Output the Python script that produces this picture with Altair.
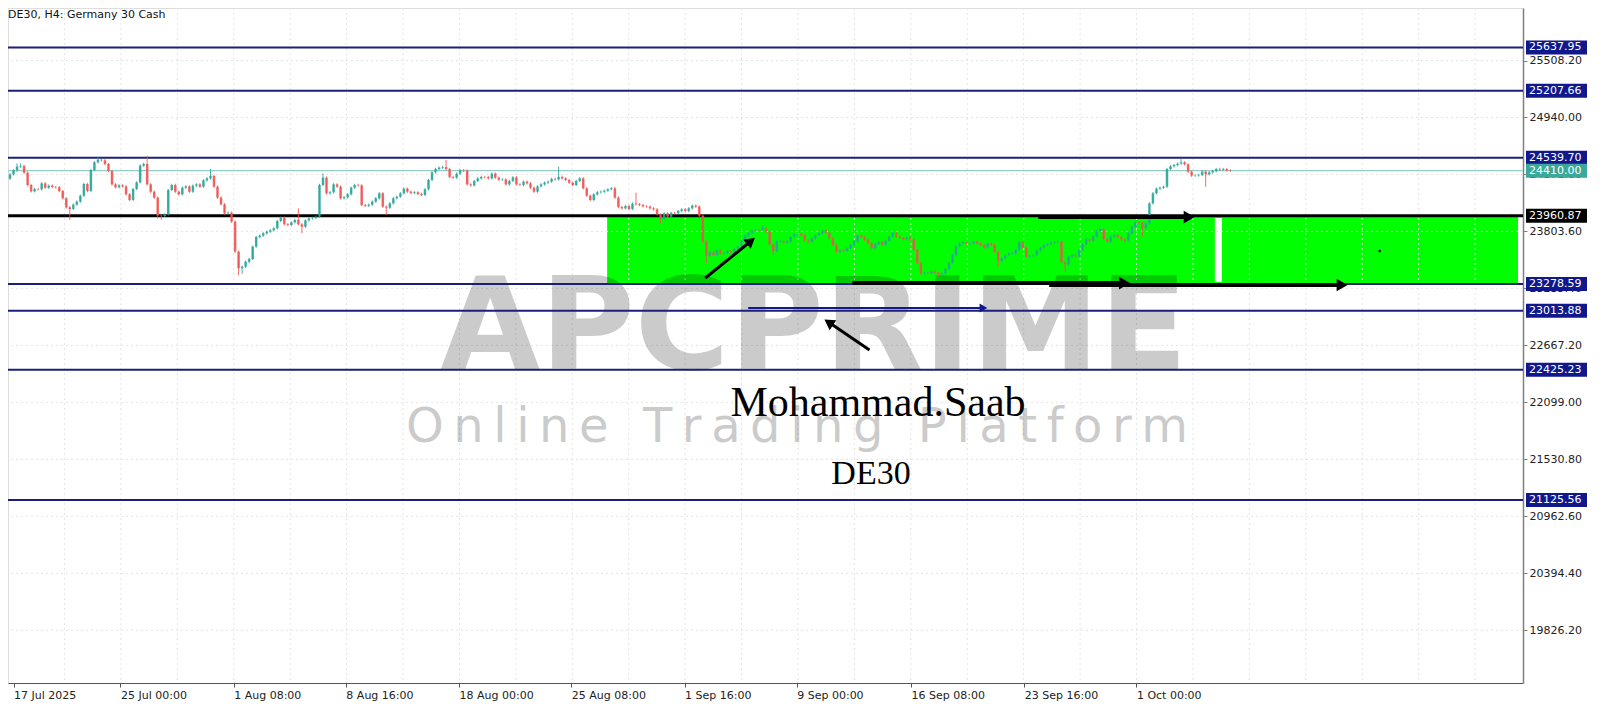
import altair as alt
import pandas as pd
import numpy as np

# ---------------- data ----------------
closes = [
    24373, 24413, 24450, 24456, 24390, 24267, 24204, 24227, 24224, 24283,
    24240, 24260, 24247, 24244, 24207, 24134, 24044, 24028, 24071, 24101,
    24160, 24277, 24207, 24416, 24493, 24519, 24513, 24476, 24406, 24273,
    24244, 24263, 24253, 24174, 24117, 24227, 24293, 24460, 24476, 24273,
    24200, 24141, 23961, 23958, 23974, 24217, 24267, 24200, 24174, 24240,
    24253, 24200, 24260, 24273, 24250, 24313, 24333, 24357, 24250, 24141,
    24074, 23984, 23990, 23901, 23602, 23436, 23452, 23502, 23529, 23652,
    23748, 23762, 23785, 23801, 23815, 23835, 23908, 23941, 23875, 23868,
    23894, 23918, 23875, 23851, 23914, 23934, 23938, 23951, 24267, 24340,
    24184, 24194, 24273, 24250, 24134, 24144, 24174, 24240, 24267, 24263,
    24067, 24060, 24070, 24101, 24134, 24184, 24051, 24041, 24084, 24134,
    24150, 24184, 24230, 24200, 24187, 24194, 24177, 24167, 24224, 24317,
    24393, 24426, 24440, 24446, 24426, 24347, 24340, 24380, 24413, 24410,
    24273, 24263, 24307, 24333, 24347, 24345, 24333, 24380, 24340, 24320,
    24322, 24273, 24307, 24343, 24273, 24267, 24300, 24283, 24240, 24200,
    24253, 24273, 24290, 24300, 24327, 24323, 24347, 24333, 24317, 24290,
    24267, 24307, 24333, 24234, 24160, 24117, 24174, 24194, 24200, 24210,
    24224, 24234, 24141, 24047, 24034, 24057, 24028, 24081, 24074, 24067,
    24054, 24051, 24034, 24024, 23974, 23928, 23984, 23951, 23988, 23986,
    24008, 24024, 24008, 24034, 24061, 24051, 23961, 23702, 23562, 23595,
    23569, 23615, 23585, 23588, 23609, 23592, 23629, 23652, 23712, 23762,
    23788, 23811, 23818, 23815, 23835, 23801, 23675, 23609, 23702, 23708,
    23692, 23705, 23748, 23775, 23778, 23765, 23712, 23702, 23735, 23768,
    23785, 23815, 23791, 23735, 23668, 23602, 23615, 23609, 23635, 23668,
    23705, 23762, 23748, 23722, 23685, 23635, 23678, 23698, 23672, 23712,
    23752, 23791, 23752, 23738, 23725, 23741, 23722, 23619, 23486, 23386,
    23390, 23389, 23403, 23392, 23373, 23386, 23429, 23489, 23569, 23658,
    23685, 23695, 23682, 23684, 23702, 23685, 23668, 23642, 23682, 23668,
    23602, 23512, 23535, 23569, 23582, 23585, 23619, 23695, 23642, 23552,
    23559, 23569, 23615, 23642, 23668, 23678, 23692, 23698, 23702, 23496,
    23476, 23552, 23569, 23555, 23619, 23675, 23725, 23712, 23752, 23808,
    23828, 23728, 23702, 23752, 23765, 23748, 23722, 23712, 23785, 23851,
    23894, 23888, 23835, 23885, 24084, 24184, 24230, 24240, 24250, 24426,
    24453, 24466, 24480, 24493, 24473, 24400, 24360, 24362, 24367, 24400,
    24373, 24393, 24406, 24426, 24420, 24426, 24413, 24410,
]
first_open = 24330
notable_highs = {2: 24483, 3: 24483, 25: 24550, 39: 24559, 57: 24426, 82: 24034,
                 89: 24383, 124: 24516, 156: 24450, 178: 24190, 214: 23868, 333: 24530}
notable_lows = {17: 23918, 42: 23935, 43: 23918, 65: 23369, 66: 23380, 68: 23486,
                83: 23785, 107: 23968, 185: 23885, 198: 23486, 217: 23569, 264: 23353,
                281: 23452, 300: 23403, 322: 23752, 340: 24250}
typical_wick = 12

date_labels = ["17 Jul 2025", "25 Jul 00:00", "1 Aug 08:00", "8 Aug 16:00", "18 Aug 00:00",
               "25 Aug 08:00", "1 Sep 16:00", "9 Sep 00:00", "16 Sep 08:00", "23 Sep 16:00",
               "1 Oct 00:00"]
date_label_bars = [1, 31.4, 63.6, 95.5, 127.7, 159.6, 191.8, 223.7, 256.2, 288.4, 320.3]

price_ticks = [26076.40, 25508.20, 24940.00, 24371.80, 23803.60, 23235.40,
               22667.20, 22099.00, 21530.80, 20962.60, 20394.40, 19826.20]

navy_levels = [25637.95, 25207.66, 24539.70, 23278.59, 23013.88, 22425.23, 21125.56]
black_levels = [23960.87]
bid_level = [24410.00]

zone_low, zone_high = 23278.59, 23960.87
zone_start_bar = 169.8
gap_bar_from, gap_bar_to = 342.6, 344.6
gap_price_low, gap_price_high = 23299, 23937

arrow_x1 = [197.7, 244.4, 209.9, 292.4, 239.5, 295.5]
arrow_y1 = [23339, 22621, 23040, 23947, 23289, 23270]
arrow_x2 = [210.7, 232.8, 276.8, 335.3, 316.9, 378.8]
arrow_y2 = [23708, 22897, 23040, 23947, 23289, 23270]
arrow_color = ["#000000", "#000000", "#14198a", "#000000", "#000000", "#000000"]
arrow_width = [3, 3, 2, 4, 4, 4]
arrow_angle = [320.6, 214, 0, 0, 0, 0]
arrow_head = [140, 140, 80, 160, 160, 160]

dot_bar, dot_price = [389.5], [23608]

title_text = ["DE30, H4:  Germany 30 Cash"]
watermark_text = ["APCPRIME"]
tagline_text = ["\u200a\u200a".join("Online Trading Platform")]
author_text = ["Mohammad.Saab"]
symbol_text = ["DE30"]

# ---------------- layout ----------------
W, H = 1515, 675
XMIN, XMAX = 0.847, 428.81
YMIN, YMAX = 19300.8, 26031.8
BULL, BEAR = "#26a69a", "#ef5350"
NAVY_LINE, NAVY_TAG = "#1c1f7a", "#10188c"
TEAL_LINE, TEAL_TAG = "#93cdc5", "#3aa89a"
FONT = "DejaVu Sans"

n = len(closes)
opens = [first_open] + closes[:-1]
highs = [notable_highs.get(i, max(opens[i], closes[i]) + typical_wick) for i in range(n)]
lows = [notable_lows.get(i, min(opens[i], closes[i]) - typical_wick) for i in range(n)]
candles = pd.DataFrame({"i": range(n), "open": opens, "close": closes,
                        "high": highs, "low": lows})
candles["dir"] = np.where(candles["close"] >= candles["open"], "up", "down")

xs = alt.Scale(domain=[XMIN, XMAX], nice=False, zero=False)
ys = alt.Scale(domain=[YMIN, YMAX], nice=False, zero=False)

label_expr = " : ".join(f"datum.value == {v} ? '{l}'" for v, l in zip(date_label_bars, date_labels)) + " : ''"
x_axis = alt.Axis(values=date_label_bars, labelExpr=label_expr, labelAlign="left",
                  labelPadding=2, tickSize=4, grid=False, title=None, labelFont=FONT,
                  labelFontSize=11, labelColor="#222222", domainColor="#555555",
                  tickColor="#555555", labelFlush=False, labelOverlap=False, labelBound=False)
y_ticks_in = [v for v in price_ticks if YMIN <= v <= YMAX]
y_axis = alt.Axis(orient="right", values=y_ticks_in, format=".2f", tickSize=4,
                  labelPadding=2, grid=False, title=None, labelFont=FONT, labelFontSize=11,
                  labelColor="#222222", domainColor="#808080", domainWidth=1.5,
                  tickColor="#808080", labelOverlap=False, labelBound=False, labelFlush=False)


def X(f):
    return alt.X(f, type="quantitative", scale=xs, axis=x_axis)


def Y(f):
    return alt.Y(f, type="quantitative", scale=ys, axis=y_axis)


zone = alt.Chart(pd.DataFrame({"x": [zone_start_bar], "x2": [XMAX], "y": [zone_low], "y2": [zone_high]})).mark_rect(
    color="#00ff00", clip=True).encode(x=X("x"), x2="x2", y=Y("y"), y2="y2")
gap = alt.Chart(pd.DataFrame({"x": [gap_bar_from], "x2": [gap_bar_to], "y": [gap_price_low], "y2": [gap_price_high]})).mark_rect(
    color="#ffffff", clip=True).encode(x=X("x"), x2="x2", y=Y("y"), y2="y2")

grid_x = -0.565 + 16.045 * np.arange(1, 27)
grid_v = alt.Chart(pd.DataFrame({"g": grid_x})).mark_rule(
    color="#e4e4e4", strokeDash=[2, 3], strokeWidth=1, clip=True).encode(x=X("g"))
grid_h = alt.Chart(pd.DataFrame({"g": y_ticks_in})).mark_rule(
    color="#e4e4e4", strokeDash=[2, 3], strokeWidth=1, clip=True).encode(y=Y("g"))

wm = alt.Chart(pd.DataFrame({"t": watermark_text})).mark_text(
    font=FONT, fontSize=129, fontWeight="bold", align="center", baseline="alphabetic",
    color="#000000", opacity=0.2).encode(x=alt.value(806), y=alt.value(361), text="t:N")
tag_line = alt.Chart(pd.DataFrame({"t": tagline_text})).mark_text(
    font=FONT, fontSize=48, fontWeight="normal", align="center", baseline="alphabetic", color="#000000",
    opacity=0.2).encode(x=alt.value(789), y=alt.value(434), text="t:N")

navy_lines = alt.Chart(pd.DataFrame({"p": navy_levels})).mark_rule(
    color=NAVY_LINE, strokeWidth=2).encode(y=Y("p"), x=alt.value(0), x2=alt.value(W))
black_lines = alt.Chart(pd.DataFrame({"p": black_levels})).mark_rule(
    color="#000000", strokeWidth=3).encode(y=Y("p"), x=alt.value(0), x2=alt.value(W))
bid_line = alt.Chart(pd.DataFrame({"p": bid_level})).mark_rule(
    color=TEAL_LINE, strokeWidth=1.2).encode(y=Y("p"), x=alt.value(0), x2=alt.value(W))

color_enc = alt.Color("dir:N", scale=alt.Scale(domain=["up", "down"], range=[BULL, BEAR]), legend=None)
wicks = alt.Chart(candles).mark_rule(strokeWidth=1, clip=True, opacity=0.85).encode(
    x=X("i"), y=Y("low"), y2="high", color=color_enc)
bodies = alt.Chart(candles).mark_bar(size=2.5, clip=True, opacity=0.85).encode(
    x=X("i"), y=Y("open"), y2="close", color=color_enc)

arrows_df = pd.DataFrame({"x1": arrow_x1, "y1": arrow_y1, "x2": arrow_x2, "y2": arrow_y2,
                          "c": arrow_color, "w": arrow_width, "a": arrow_angle, "s": arrow_head})
arrow_lines = alt.Chart(arrows_df).mark_rule(clip=True).encode(
    x=X("x1"), y=Y("y1"), x2="x2", y2="y2",
    color=alt.Color("c:N", scale=None), strokeWidth=alt.StrokeWidth("w:Q", scale=None))
arrow_heads = alt.Chart(arrows_df).mark_point(shape="triangle-right", filled=True, opacity=1, clip=True).encode(
    x=X("x2"), y=Y("y2"), color=alt.Color("c:N", scale=None),
    angle=alt.Angle("a:Q", scale=None), size=alt.Size("s:Q", scale=None))
dot = alt.Chart(pd.DataFrame({"x": dot_bar, "y": dot_price})).mark_point(
    filled=True, size=6, color="#000000", opacity=1).encode(x=X("x"), y=Y("y"))

title = alt.Chart(pd.DataFrame({"t": title_text})).mark_text(
    font=FONT, fontSize=11, align="left", baseline="middle", color="#111111").encode(
    x=alt.value(0), y=alt.value(7), text="t:N")
author = alt.Chart(pd.DataFrame({"t": author_text})).mark_text(
    font="Liberation Serif", fontSize=42, align="center", baseline="alphabetic", color="#000000").encode(
    x=alt.value(870), y=alt.value(408), text="t:N")
symbol = alt.Chart(pd.DataFrame({"t": symbol_text})).mark_text(
    font="Liberation Serif", fontSize=34, align="center", baseline="alphabetic", color="#000000").encode(
    x=alt.value(863), y=alt.value(476), text="t:N")

tags = pd.DataFrame({
    "p": navy_levels + black_levels + bid_level,
    "c": [NAVY_TAG] * len(navy_levels) + ["#000000"] * len(black_levels) + [TEAL_TAG] * len(bid_level),
})
tags["label"] = tags["p"].map(lambda v: f"{v:.2f}")
tag_boxes = alt.Chart(tags).mark_rule(strokeWidth=14, clip=False).encode(
    y=Y("p"), x=alt.value(W + 3), x2=alt.value(W + 64), color=alt.Color("c:N", scale=None))
tag_text = alt.Chart(tags).mark_text(
    font=FONT, fontSize=11, align="left", baseline="middle", color="#ffffff", clip=False).encode(
    y=Y("p"), x=alt.value(W + 6), text="label:N")

chart = alt.layer(
    zone, gap, grid_v, grid_h, wm, tag_line, navy_lines, bid_line, black_lines,
    wicks, bodies, arrow_lines, arrow_heads, dot, title, author, symbol, tag_boxes, tag_text,
).properties(
    width=W, height=H,
    padding={"left": 0, "top": 0, "right": 67, "bottom": 20},
    autosize=alt.AutoSizeParams(type="none"),
).configure_view(stroke=None).configure(background="#ffffff")

chart.save("out.html", embed_options={"renderer": "svg", "actions": False})
